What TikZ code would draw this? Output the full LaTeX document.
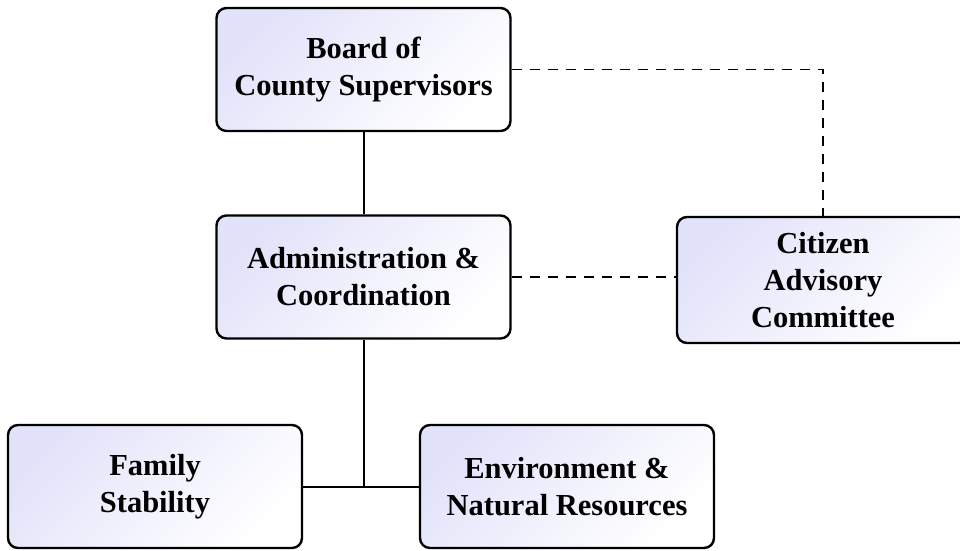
\documentclass[tikz,border=0pt]{standalone}
\usepackage{fontspec}
\setmainfont{Liberation Serif}
\usepackage{tikz}
\usetikzlibrary{positioning}
\definecolor{lav}{RGB}{226,226,250}
\tikzset{
	unit/.style={draw, line width=2.4pt, rounded corners=10pt, top color=lav, bottom color=white, shading angle=45, minimum width=294pt, minimum height=123pt, align=center, font=\fontsize{30.5}{37}\selectfont\bfseries},
	link/.style={line width=2pt},
	advise/.style={line width=1.6pt, dash pattern=on 10pt off 8pt}
}

\begin{document}
\begin{tikzpicture}[x=1pt, y=-1pt]
	\useasboundingbox (0,0) rectangle (960,550); \clip (0,0) rectangle (960,550);
	\node[unit] (board) at (363.5,69.5) {Board of\\County Supervisors};
	\node[unit] (admin) at (363.5,277) {Administration \&\\Coordination};
	\node[unit, minimum width=292pt, minimum height=126pt] (citizen) at (823,280) {Citizen\\Advisory\\Committee};
	\node[unit] (family) at (155,486.5) {Family\\Stability};
	\node[unit] (env) at (567,486.5) {Environment \&\\Natural Resources};
	\coordinate (join) at (admin.south |- family.east);
	\draw[link] (board) -- (admin); \draw[link] (admin) -- (join); \draw[link] (family) -- (env);
	\draw[advise] (board.east) -| (citizen.north);
	\draw[advise] (admin.east) -- (admin.east -| citizen.west);
\end{tikzpicture}
\end{document}
